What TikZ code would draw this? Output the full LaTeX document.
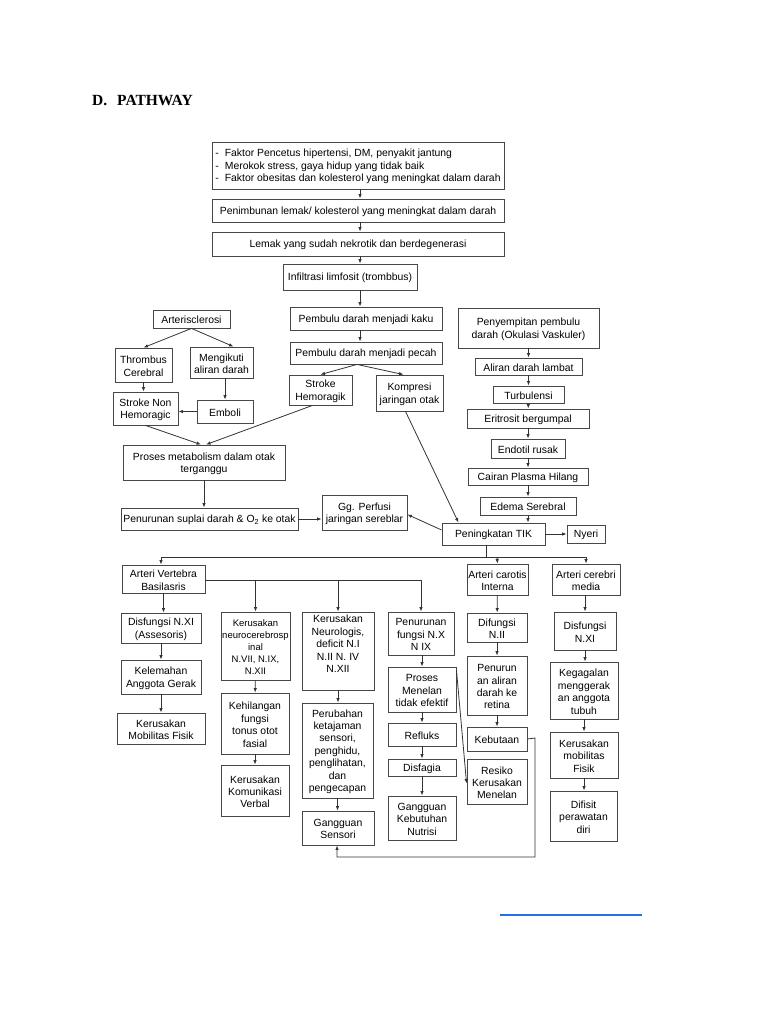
\documentclass[tikz,border=0pt]{standalone}
\usepackage{fontspec}
\setmainfont{Liberation Sans}
\newfontfamily\ttlfont{Liberation Serif}
\usetikzlibrary{arrows.meta,calc}
\definecolor{lnkblue}{RGB}{40,110,235}
\newcommand{\bx}[7][]{\node[boxframe,minimum width={(#5-#3)*1pt},minimum height={(#6-#4)*1pt}] (#2) at ({(#3+#5)/2},{(#4+#6)/2}) {};
\node[boxtext,#1] (#2t) at ([yshift=-1.2pt]#2.center) {#7};}
\begin{document}
\begin{tikzpicture}[x=1pt,y=-1pt,
  boxframe/.style={draw=black!72,line width=0.85pt,fill=white,inner sep=0pt},
  boxtext/.style={align=center,inner sep=0pt,font=\fontsize{10.4}{12.4}\selectfont},
  smalltxt/.style={font=\fontsize{9.5}{12}\selectfont},
  arr/.style={draw=black!80,line width=0.8pt,-{Latex[length=4.5pt,width=3.5pt]}},
  ln/.style={draw=black!80,line width=0.8pt}]
\useasboundingbox (0,0) rectangle (768,1024);
% title
\node[anchor=base west,inner sep=0,font=\ttlfont\bfseries\fontsize{15.5}{18}\selectfont] (tD) at (92,106) {D.};
\node[anchor=base west,inner sep=0,font=\ttlfont\bfseries\fontsize{15.5}{18}\selectfont] (tP) at (117,106) {PATHWAY};
% top chain
\bx[align=left]{b1}{212}{142}{504}{189}{-\hspace{6pt}Faktor Pencetus hipertensi, DM, penyakit jantung\\-\hspace{6pt}Merokok stress, gaya hidup yang tidak baik\\-\hspace{6pt}Faktor obesitas dan kolesterol yang meningkat dalam darah}
\bx{b2}{212}{199}{504}{222}{Penimbunan lemak/ kolesterol yang meningkat dalam darah}
\bx{b3}{212}{232}{504}{256}{Lemak yang sudah nekrotik dan berdegenerasi}
\bx{b4}{283}{264}{417}{290}{Infiltrasi limfosit (trombbus)}
\bx{kaku}{290}{307}{442}{330}{Pembulu darah menjadi kaku}
\bx{pecah}{290}{342}{442}{364}{Pembulu darah menjadi pecah}
\bx{sh}{289}{375}{352}{405}{Stroke\\Hemoragik}
\bx{komp}{376}{375}{443}{411}{Kompresi\\jaringan otak}
% left
\bx{art}{153}{310}{230}{328}{Arterisclerosi}
\bx{thr}{115}{348}{172}{382}{Thrombus\\Cerebral}
\bx{meng}{190}{347}{253}{378}{Mengikuti\\aliran darah}
\bx{snh}{113}{392}{178}{425}{Stroke Non\\Hemoragic}
\bx{emb}{197}{400}{253}{423}{Emboli}
\bx{pro}{123}{445}{285}{480}{Proses metabolism dalam otak\\terganggu}
\bx{pen}{121}{508}{298}{530}{Penurunan suplai darah \& O\textsubscript{2} ke otak}
\bx{perf}{322}{495}{407}{530}{Gg. Perfusi\\jaringan sereblar}
% right column
\bx{psp}{458}{308}{599}{348}{Penyempitan pembulu\\darah (Okulasi Vaskuler)}
\bx{alr}{475}{358}{582}{375}{Aliran darah lambat}
\bx{turb}{493}{386}{564}{403}{Turbulensi}
\bx{erit}{467}{409}{589}{428}{Eritrosit bergumpal}
\bx{endo}{491}{439}{565}{458}{Endotil rusak}
\bx{cair}{468}{468}{588}{485}{Cairan Plasma Hilang}
\bx{edema}{480}{497}{576}{515}{Edema Serebral}
\bx{tik}{442}{523}{545}{545}{Peningkatan TIK}
\bx{nyeri}{567}{525}{605}{543}{Nyeri}
% bottom rows
\bx{avb}{122}{565}{205}{593}{Arteri Vertebra\\Basilasris}
\bx{dnxi}{121}{613}{201}{643}{Disfungsi N.XI\\(Assesoris)}
\bx{kel}{121}{660}{201}{694}{Kelemahan\\Anggota Gerak}
\bx{kmf}{117}{713}{205}{744}{Kerusakan\\Mobilitas Fisik}
\bx[smalltxt]{kn}{221}{612}{290}{680}{Kerusakan\\neurocerebrosp\\inal\\N.VII, N.IX,\\N.XII}
\bx{keh}{221}{693}{289}{754}{Kehilangan\\fungsi\\tonus otot\\fasial}
\bx{kkv}{221}{765}{289}{816}{Kerusakan\\Komunikasi\\Verbal}
\bx{kneu}{302}{612}{374}{690}{Kerusakan\\Neurologis,\\deficit N.I\\N.II N. IV\\N.XII\\[4pt]}
\bx{pks}{302}{703}{373}{798}{Perubahan\\ketajaman\\sensori,\\penghidu,\\penglihatan,\\dan\\pengecapan}
\bx{gs}{302}{811}{374}{845}{Gangguan\\Sensori}
\bx{pfx}{388}{612}{454}{655}{Penurunan\\fungsi N.X\\N IX}
\bx{pme}{388}{667}{456}{712}{Proses\\Menelan\\tidak efektif}
\bx{ref}{388}{723}{456}{746}{Refluks}
\bx{dis}{388}{759}{456}{776}{Disfagia}
\bx{gkn}{388}{796}{456}{840}{Gangguan\\Kebutuhan\\Nutrisi}
\bx{aci}{467}{564}{528}{595}{Arteri carotis\\Interna}
\bx{dn2}{467}{613}{527}{642}{Difungsi\\N.II}
\bx{par}{467}{656}{527}{715}{Penurun\\an aliran\\darah ke\\retina}
\bx{keb}{467}{727}{527}{751}{Kebutaan}
\bx{rkm}{467}{759}{527}{804}{Resiko\\Kerusakan\\Menelan}
\bx{acm}{552}{564}{620}{595}{Arteri cerebri\\media}
\bx{dnxi2}{554}{612}{616}{650}{Disfungsi\\N.XI}
\bx{keg}{550}{662}{618}{719}{Kegagalan\\menggerak\\an anggota\\tubuh}
\bx{kmf2}{550}{732}{618}{778}{Kerusakan\\mobilitas\\Fisik}
\bx{dpd}{550}{791}{617}{841}{Difisit\\perawatan\\diri}
% coordinates
\coordinate (xa) at (360,0);
\coordinate (ja) at (486,557);
\coordinate (jl) at (161,557);
\coordinate (jr) at (586,557);
\coordinate (jc) at (497,557);
\coordinate (hb) at (421,580);
\coordinate (k1) at (535,738);
\coordinate (k2) at (535,857);
\coordinate (k3) at (337,857);
\coordinate (lk1) at (500,915);
\coordinate (lk2) at (642,915);
% top chain arrows
\draw[arr] (b1.south -| xa) -- (b2.north -| xa);
\draw[arr] (b2.south -| xa) -- (b3.north -| xa);
\draw[arr] (b3.south -| xa) -- (b4.north -| xa);
\draw[arr] (b4.south -| xa) -- (kaku.north -| xa);
\draw[arr] (kaku.south -| xa) -- (pecah.north -| xa);
\draw[arr] ([xshift=-9pt]pecah.south) -- (sh.north);
\draw[arr] ([xshift=-9pt]pecah.south) -- ([xshift=-6pt]komp.north);
% left arrows
\draw[arr] (art.south) -- (thr.north);
\draw[arr] (art.south) -- ([xshift=12pt]meng.north);
\draw[arr] (thr) -- (snh.north -| thr);
\draw[arr] (meng.south -| emb) -- (emb.north);
\draw[arr] (emb.west) -- (emb.west -| snh.east);
\draw[arr] (snh.south) -- ([xshift=-3pt]pro.north);
\draw[arr] ([xshift=-8pt]sh.south) -- ([xshift=2pt]pro.north);
\draw[arr] (pro.south) -- (pen.north -| pro.south);
\draw[arr] (pen.east) -- (pen.east -| perf.west);
\draw[arr] ([yshift=4pt]tik.west) -- ([yshift=-2pt]perf.east);
\draw[arr] ([xshift=-4pt]komp.south) -- ([xshift=-35pt]tik.north);
% right column arrows
\draw[arr] (psp) -- (alr);
\draw[arr] (alr) -- (turb);
\draw[arr] (turb) -- (erit);
\draw[arr] (erit) -- (endo);
\draw[arr] (endo) -- (cair);
\draw[arr] (cair) -- (edema);
\draw[arr] (edema.south) -- (edema.south |- tik.north);
\draw[arr] (tik.east) -- (nyeri.west);
% distribution
\draw[ln] (tik.south -| ja) -- (ja);
\draw[ln] (jl) -- (jr);
\draw[arr] (jl) -- (avb.north -| jl);
\draw[arr] (jr) -- (acm.north -| jr);
\draw[arr] (jc) -- (aci.north);
\draw[ln] (avb.east |- hb) -- (hb);
\draw[arr] (kn.north |- hb) -- (kn.north);
\draw[arr] (kneu.north |- hb) -- (kneu.north);
\draw[arr] (hb) -- (pfx.north -| hb);
% columns
\draw[arr] (avb) -- (dnxi.north -| avb);
\draw[arr] (dnxi.south) -- (kel.north);
\draw[arr] (kel.south) -- (kmf.north);
\draw[arr] (kn) -- (keh);
\draw[arr] (keh) -- (kkv);
\draw[arr] (kneu) -- (pks.north -| kneu);
\draw[arr] (pks) -- (gs.north -| pks);
\draw[arr] (pfx.south -| pme) -- (pme.north);
\draw[arr] (pme) -- (ref);
\draw[arr] (ref) -- (dis);
\draw[arr] (dis) -- (gkn);
\draw[arr] (aci) -- (dn2);
\draw[arr] (dn2) -- (par);
\draw[arr] (par) -- (keb);
\draw[arr] ([yshift=-3pt]pme.north east) -- ([yshift=-2pt]rkm.west);
\draw[arr] (acm.south -| dnxi2) -- (dnxi2.north);
\draw[arr] (dnxi2) -- (keg.north -| dnxi2);
\draw[arr] (keg) -- (kmf2);
\draw[arr] (kmf2) -- (dpd.north -| kmf2);
\draw[arr] (keb.east) -- (k1) -- (k2) -- (k3) -- (gs.south -| k3);
% link underline
\draw[draw=lnkblue,line width=1.2pt] (lk1) -- (lk2);
\end{tikzpicture}
\end{document}
